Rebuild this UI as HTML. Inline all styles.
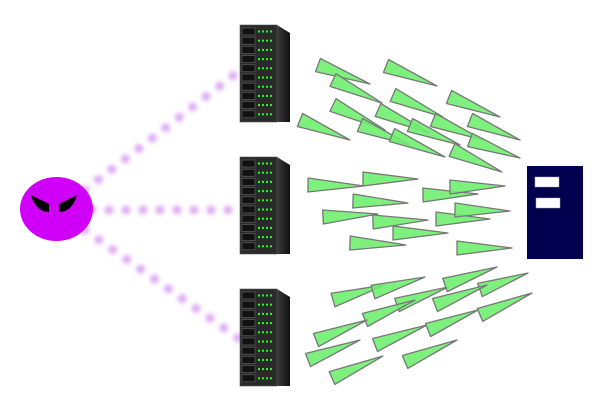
<!DOCTYPE html>
<html><head><meta charset="utf-8"><style>html,body{margin:0;padding:0;background:#fff}svg{display:block}</style></head>
<body>
<svg id="s" width="600" height="400" viewBox="0 0 600 400">
<defs>
<filter id="blur" x="-20%" y="-20%" width="140%" height="140%"><feGaussianBlur stdDeviation="2"/></filter>
<linearGradient id="side" x1="0" x2="1"><stop offset="0" stop-color="#3a3a3a"/><stop offset="1" stop-color="#111"/></linearGradient>
</defs>
<g filter="url(#blur)" stroke="#ddaaf3" stroke-width="9" stroke-linecap="round" stroke-dasharray="0 17" fill="none">
<line x1="85" y1="190" x2="238" y2="72"/>
<line x1="92" y1="210" x2="238" y2="210"/>
<line x1="85" y1="230" x2="238" y2="338"/>
</g>
<g>
<ellipse cx="56.5" cy="209" rx="36.5" ry="32" fill="#d000f8"/>
<path d="M31,195 L49,204 L49,212 Q36,212 31,195 Z" fill="#000"/>
<path d="M77,195 L59,204 L59,212 Q72,212 77,195 Z" fill="#000"/>
</g>
<g id="servers"></g>
<g id="packets" fill="#70ee70" fill-opacity="0.9" stroke="#777" stroke-width="1.3" stroke-linejoin="round"></g>
<g>
<rect x="527" y="166" width="56" height="93" fill="#00004e"/>
<rect x="535" y="177" width="24" height="10" fill="#fff" stroke="#aaa" stroke-width="0.5"/>
<rect x="536" y="198" width="24" height="10" fill="#fff" stroke="#aaa" stroke-width="0.5"/>
</g>
</svg>
<script>
const NS='http://www.w3.org/2000/svg';
const serverTops=[25,157,289];
const packetBases=[[318,65],[386,66],[449,97],[333,80],[393,95],[300,120],[333,105],[378,110],[360,125],[410,125],[433,120],[470,120],[392,135],[470,140],[452,150],
[308,185],[363,179],[353,201],[423,195],[450,187],[323,217],[373,222],[393,233],[436,219],[455,210],[350,243],[457,248],
[333,300],[373,292],[397,305],[445,285],[480,290],[435,305],[365,320],[316,340],[375,345],[428,330],[480,315],[308,360],[332,378],[405,362]];
const packetTips=[[370,84],[437,86],[500,117],[382,103],[443,117],[350,140],[385,130],[430,133],[410,145],[460,145],[483,140],[520,140],[445,157],[520,158],[502,172],
[364,186],[418,179],[408,203],[478,194],[505,186],[378,214],[428,220],[448,233],[490,219],[510,211],[406,245],[512,248],
[385,285],[425,277],[448,287],[497,267],[528,273],[487,285],[415,300],[367,320],[427,325],[478,310],[532,293],[360,340],[383,356],[457,340]];
const sg=document.getElementById('servers');
serverTops.forEach((t,i)=>{
 const g=document.createElementNS(NS,'g');
 
 
 let h=`<polygon points="277,${t} 290,${t+8} 290,${t+97} 277,${t+97}" fill="url(#side)"/><rect x="240" y="${t}" width="37" height="97" fill="#2a2a2a" stroke="#555" stroke-width="0.6"/>`;
 for(let r=0;r<10;r++){const y=t+3+r*9.2;
  h+=`<rect x="242" y="${y}" width="13" height="7" fill="#111" stroke="#666" stroke-width="0.6"/>`;
  for(let k=0;k<4;k++)h+=`<rect x="${258+k*4}" y="${y+2.5}" width="2" height="2" fill="#2f2"/>`;}
 g.innerHTML=h;sg.appendChild(g);
});
const pg=document.getElementById('packets');
packetBases.forEach((b,i)=>{
 const t=packetTips[i];const dx=t[0]-b[0],dy=t[1]-b[1],L=Math.hypot(dx,dy);const nx=-dy/L*7,ny=dx/L*7;
 const p=document.createElementNS(NS,'polygon');
 
 
 p.setAttribute('points',`${b[0]+nx},${b[1]+ny} ${b[0]-nx},${b[1]-ny} ${t[0]},${t[1]}`);
 pg.appendChild(p);
});
</script>
</body></html>
